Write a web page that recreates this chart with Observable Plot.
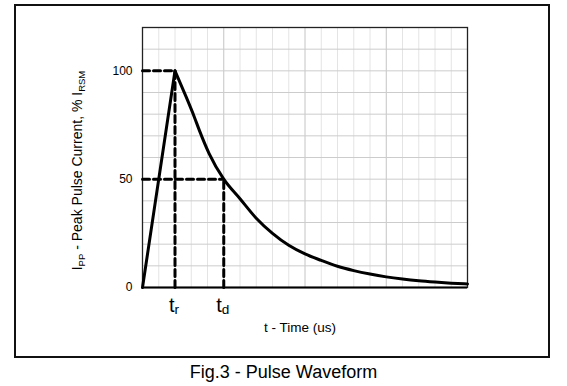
<!DOCTYPE html>
<html>
<head>
<meta charset="utf-8">
<script src="https://cdn.jsdelivr.net/npm/d3@7"></script>
<script src="https://cdn.jsdelivr.net/npm/@observablehq/plot@0.6"></script>
<style>
  html, body { margin: 0; padding: 0; background: #fff; }
  #wrap { position: relative; width: 567px; height: 386px; font-family: "Liberation Sans", Arial, sans-serif; }
  #frame { position: absolute; left: 14px; top: 4px; width: 536px; height: 354px; border: 2px solid #111; box-sizing: border-box; pointer-events: none; }
  #caption { position: absolute; left: 0; top: 362px; width: 567px; text-align: center; font-size: 18px; line-height: 20px; color: #000; }
  #chart { position: absolute; left: 0; top: 0; }
</style>
</head>
<body>
<div id="wrap">
  <div id="chart"></div>
  <div id="frame"></div>
  <div id="caption"></div>
</div>
<script>
// ---- data ----
const time    = [0, 2, 2.6, 3.2, 3.5, 4.1, 5, 6, 7, 8, 9, 10, 11, 12, 13, 14, 15, 16, 17, 18, 19, 20];
const current = [0, 100, 89.5, 78.5, 72.5, 61.8, 50, 41, 32, 25, 19.5, 15.5, 12.5, 9.8, 7.8, 6.2, 4.9, 3.9, 3.1, 2.5, 2, 1.6];
const yTicks = [0, 50, 100];
const xMinorGrid = [1, 2, 3, 4, 6, 7, 8, 9, 11, 12, 13, 14, 16, 17, 18, 19];
const xMajorGrid = [5, 10, 15];
const yGrid = [10, 20, 30, 40, 50, 60, 70, 80, 90, 100, 110];
const markerTime  = [2, 5];          // t_r, t_d
const markerLevel = [100, 50];
const markerLabel = ["t_{r}", "t_{d}"];
const xLabel = "t - Time (us)";
const yLabel = "I_{PP} - Peak Pulse Current, % I_{RSM}";
const caption = "Fig.3 - Pulse Waveform";

const rows = time.map((t, i) => ({t, v: current[i]}));
const rise = rows.filter(d => d.t <= 2);
const decay = rows.filter(d => d.t >= 2);
const markers = markerTime.map((t, i) => ({t, v: markerLevel[i], label: markerLabel[i]}));

const hDash = markers.flatMap(d => [{id: d.label, t: 0, v: d.v}, {id: d.label, t: d.t, v: d.v}]);
const vDash = markers.flatMap(d => [{id: d.label, t: d.t, v: 0}, {id: d.label, t: d.t, v: d.v}]);

const plot = Plot.plot({
  width: 567,
  height: 358,
  marginLeft: 142,
  marginRight: 100,
  marginTop: 27,
  marginBottom: 71,
  style: {fontFamily: "'Liberation Sans', Arial, sans-serif", background: "#fff", color: "#000"},
  x: {domain: [0, 20], axis: null},
  y: {domain: [0, 120], axis: null},
  marks: [
    Plot.ruleX(xMinorGrid, {stroke: "#e4e4e4", strokeWidth: 1}),
    Plot.ruleX(xMajorGrid, {stroke: "#c4c4c4", strokeWidth: 1}),
    Plot.ruleY(yGrid, {stroke: "#cccccc", strokeWidth: 1}),
    Plot.frame({stroke: "#222", strokeWidth: 1.3}),
    Plot.ruleY([0], {stroke: "#000", strokeWidth: 2.2}),
    Plot.axisY(yTicks, {tickSize: 0, tickPadding: 10, fontSize: 12, label: null}),
    Plot.line(hDash, {x: "t", y: "v", z: "id", stroke: "#000", strokeWidth: 3, strokeDasharray: "7,4"}),
    Plot.line(vDash, {x: "t", y: "v", z: "id", stroke: "#000", strokeWidth: 3, strokeDasharray: "7,4"}),
    Plot.line(rise, {x: "t", y: "v", stroke: "#000", strokeWidth: 3}),
    Plot.line(decay, {x: "t", y: "v", stroke: "#000", strokeWidth: 3, curve: "monotone-x"}),
    Plot.text(markers, {x: "t", y: 0, text: "label", dy: 18.5, dx: -1, fontSize: 20, textAnchor: "middle", lineAnchor: "middle"}),
    Plot.text([xLabel], {frameAnchor: "bottom", dy: 40, dx: -5, fontSize: 13.5, textAnchor: "middle", lineAnchor: "middle"}),
    Plot.text([yLabel], {frameAnchor: "left", rotate: -90, dx: -65, dy: 13, fontSize: 14, textAnchor: "middle", lineAnchor: "middle"})
  ]
});

// convert "_{...}" markup into subscript tspans
d3.select(plot).selectAll("text").each(function() {
  const s = this.textContent;
  if (!s.includes("_{")) return;
  const isMarker = s.startsWith("t_");
  const parts = s.split(/_\{([^}]*)\}/);
  const sel = d3.select(this);
  sel.text(null);
  const shift = isMarker ? "0.15em" : "0.35em";
  const back = isMarker ? "-0.1em" : "-0.24em";
  parts.forEach((p, i) => {
    if (!p) return;
    const sub = i % 2 === 1;
    const ts = sel.append("tspan").text(p);
    if (sub) {
      ts.attr("font-size", "0.68em").attr("dy", shift);
    } else if (i > 0) {
      ts.attr("dy", back);
    }
  });
});

document.getElementById("chart").append(plot);
document.getElementById("caption").textContent = caption;
</script>
</body>
</html>
